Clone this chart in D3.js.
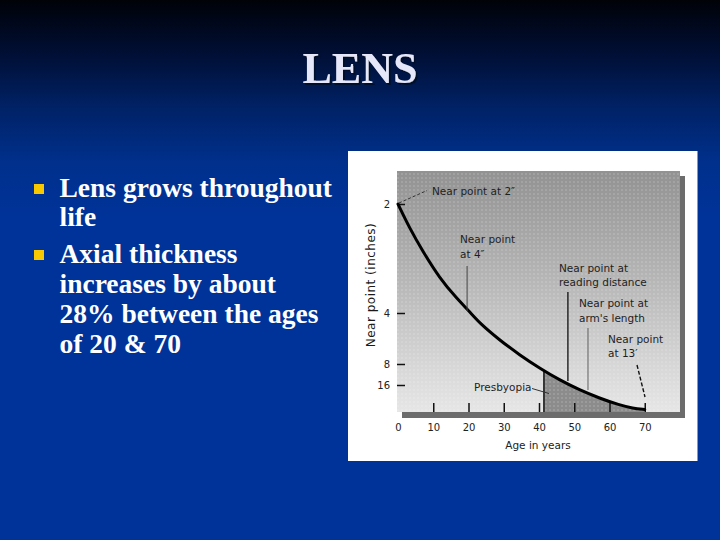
<!DOCTYPE html>
<html>
<head>
<meta charset="utf-8">
<title>LENS</title>
<script src="https://cdn.jsdelivr.net/npm/d3@7"></script>
<style>
  body { margin: 0; background: #003399; }
  svg { display: block; }
</style>
</head>
<body>
<div id="slide"></div>
<script>
// near point curve
const ages = [0, 3.3, 7.1, 11.8, 16.6, 20.3, 23.2, 28.8, 34.5, 40.2, 45.8, 51.5, 57.2, 62.8, 66.6, 70];
const nearPointInches = [2.0, 2.25, 2.56, 3.03, 3.52, 3.95, 4.45, 5.44, 6.8, 8.9, 12.9, 19.6, 31, 60, 109, 156];
const presbyopiaStart = 41.4;
const presbyopiaEnd = 70;

const xTicks = [0, 10, 20, 30, 40, 50, 60, 70];
const yTicks = [2, 4, 8, 16];

const title = 'LENS';
const bullets = [
    ['Lens grows throughout', 'life'],
    ['Axial thickness', 'increases by about', '28% between the ages', 'of 20 & 70']
];

const width = 720;
const height = 540;

const svg = d3.select('#slide')
    .append('svg')
    .attr('width', width)
    .attr('height', height);

const defs = svg.append('defs');

// slide background
const bg = defs.append('linearGradient')
    .attr('id', 'bg').attr('x1', 0).attr('y1', 0).attr('x2', 0).attr('y2', 1);
bg.append('stop').attr('offset', 0).attr('stop-color', '#000208');
bg.append('stop').attr('offset', 0.1).attr('stop-color', '#000f35');
bg.append('stop').attr('offset', 0.2).attr('stop-color', '#002266');
bg.append('stop').attr('offset', 0.3).attr('stop-color', '#00308c');
bg.append('stop').attr('offset', 0.4).attr('stop-color', '#003399');
bg.append('stop').attr('offset', 1).attr('stop-color', '#003399');

svg.append('rect').attr('width', width).attr('height', height).attr('fill', 'url(#bg)');

const shadow = defs.append('filter').attr('id', 'titleShadow');
shadow.append('feDropShadow')
    .attr('dx', 2).attr('dy', 2).attr('stdDeviation', 0.6)
    .attr('flood-color', '#000a2a').attr('flood-opacity', 0.9);

// title
svg.append('text')
    .attr('x', 360).attr('y', 83)
    .attr('text-anchor', 'middle')
    .attr('font-family', '"Liberation Serif", "Times New Roman", serif')
    .attr('font-weight', 'bold')
    .attr('font-size', 44)
    .attr('fill', '#e6e8fa')
    .attr('filter', 'url(#titleShadow)')
    .text(title);

// bullets
const bulletG = svg.append('g')
    .attr('font-family', '"Liberation Serif", "Times New Roman", serif')
    .attr('font-weight', 'bold')
    .attr('font-size', 27.5)
    .attr('fill', '#ffffff');

const bulletTops = [197, 263];
const lineStep = 30;
bullets.forEach((lines, i) => {
    bulletG.append('rect')
        .attr('x', 34).attr('y', bulletTops[i] - 13)
        .attr('width', 10).attr('height', 10)
        .attr('fill', '#f8c800');
    lines.forEach((t, j) => {
        bulletG.append('text')
            .attr('x', 59.5)
            .attr('y', bulletTops[i] + j * lineStep - (i === 0 && j > 0 ? 1 : 0))
            .text(t);
    });
});

// chart panel
const panel = { x: 348, y: 151, w: 349.5, h: 310 };
svg.append('rect')
    .attr('x', panel.x).attr('y', panel.y)
    .attr('width', panel.w).attr('height', panel.h)
    .attr('fill', '#ffffff');

const plotLeft = 397;
const plotRight = 680;
const plotTop = 171;
const plotBottom = 412;

const x = d3.scaleLinear().domain([0, 80]).range([398, plotRight]);
// the axis is spaced in reciprocal inches (dioptres), hand drawn, so piecewise
const y = d3.scaleLinear()
    .domain([0, 1 / 156, 1 / 16, 1 / 8, 1 / 4, 1 / 2])
    .range([plotBottom, 409.5, 385, 364, 313, 204]);
const yIn = v => y(1 / v);

const curveData = ages.map((a, i) => ({ age: a, inches: nearPointInches[i] }));

const plotGrad = defs.append('linearGradient')
    .attr('id', 'plotbg').attr('x1', 0).attr('y1', 0).attr('x2', 0).attr('y2', 1);
plotGrad.append('stop').attr('offset', 0).attr('stop-color', '#929292');
plotGrad.append('stop').attr('offset', 0.45).attr('stop-color', '#b6b6b6');
plotGrad.append('stop').attr('offset', 0.8).attr('stop-color', '#d6d6d6');
plotGrad.append('stop').attr('offset', 1).attr('stop-color', '#e6e6e6');

const dots = defs.append('pattern')
    .attr('id', 'dots')
    .attr('patternUnits', 'userSpaceOnUse')
    .attr('width', 4).attr('height', 4);
dots.append('circle').attr('cx', 2).attr('cy', 2).attr('r', 1.1).attr('fill', '#ffffff');

// shadow + plot background
svg.append('rect')
    .attr('x', plotLeft + 5).attr('y', plotTop + 5)
    .attr('width', plotRight - plotLeft).attr('height', plotBottom - plotTop + 1)
    .attr('fill', '#6c6c6c');
svg.append('rect')
    .attr('x', plotLeft).attr('y', plotTop)
    .attr('width', plotRight - plotLeft).attr('height', plotBottom - plotTop)
    .attr('fill', 'url(#plotbg)');

const line = d3.line()
    .x(d => x(d.age))
    .y(d => yIn(d.inches))
    .curve(d3.curveBasis);

const area = d3.area()
    .x(d => x(d.age))
    .y0(plotBottom)
    .y1(d => yIn(d.inches))
    .curve(d3.curveBasis);

defs.append('clipPath').attr('id', 'presbyClip')
    .append('rect')
    .attr('x', x(presbyopiaStart)).attr('y', plotTop)
    .attr('width', x(presbyopiaEnd) - x(presbyopiaStart)).attr('height', plotBottom - plotTop);

defs.append('clipPath').attr('id', 'underCurve')
    .append('path')
    .attr('d', area(curveData));

svg.append('path')
    .attr('d', area(curveData))
    .attr('fill', '#8c8c8c')
    .attr('clip-path', 'url(#presbyClip)');

// halftone texture
svg.append('rect')
    .attr('x', plotLeft).attr('y', plotTop)
    .attr('width', plotRight - plotLeft).attr('height', plotBottom - plotTop)
    .attr('fill', 'url(#dots)')
    .attr('opacity', 0.16);

svg.append('line')
    .attr('x1', x(presbyopiaStart)).attr('x2', x(presbyopiaStart))
    .attr('y1', plotTop).attr('y2', plotBottom)
    .attr('stroke', '#111').attr('stroke-width', 1.5)
    .attr('clip-path', 'url(#underCurve)');

// axes
const axisFont = '"DejaVu Sans", "Liberation Sans", sans-serif';

const xAxis = svg.append('g')
    .attr('transform', `translate(0,${plotBottom})`)
    .call(d3.axisBottom(x).tickValues(xTicks).tickSizeInner(-9).tickSizeOuter(0).tickPadding(12));
xAxis.select('.domain').remove();
xAxis.selectAll('.tick line')
    .attr('stroke', '#111').attr('stroke-width', 1.5)
    .filter(d => d === 0).remove();
xAxis.selectAll('.tick text')
    .attr('font-family', axisFont).attr('font-size', 10).attr('fill', '#222');

const yAxis = svg.append('g')
    .attr('transform', `translate(${plotLeft},0)`)
    .call(d3.axisLeft(y)
        .tickValues(yTicks.map(v => 1 / v))
        .tickFormat(d => Math.round(1 / d))
        .tickSizeInner(-8).tickSizeOuter(0).tickPadding(7));
yAxis.select('.domain').remove();
yAxis.selectAll('.tick line').attr('stroke', '#111').attr('stroke-width', 1.5);
yAxis.selectAll('.tick text')
    .attr('font-family', axisFont).attr('font-size', 10).attr('fill', '#222');

svg.append('text')
    .attr('x', 538).attr('y', 448.5)
    .attr('text-anchor', 'middle')
    .attr('font-family', axisFont).attr('font-size', 10.5).attr('fill', '#222')
    .text('Age in years');

svg.append('text')
    .attr('transform', 'translate(375,285) rotate(-90)')
    .attr('text-anchor', 'middle')
    .attr('font-family', axisFont).attr('font-size', 12).attr('letter-spacing', 0.5)
    .attr('fill', '#1a1a1a')
    .text('Near point (inches)');

// the curve
svg.append('path')
    .attr('d', line(curveData))
    .attr('fill', 'none')
    .attr('stroke', '#000')
    .attr('stroke-width', 3)
    .attr('stroke-linecap', 'round');

// annotations
const notes = svg.append('g')
    .attr('font-family', axisFont)
    .attr('font-size', 10.5)
    .attr('fill', '#1e1e1e');

function note(lines, tx, ty) {
    lines.forEach((t, i) => {
        notes.append('text').attr('x', tx).attr('y', ty + i * 14.5).text(t);
    });
}

note(['Near point at 2″'], 432, 194.5);
note(['Near point', 'at 4″'], 460, 243);
note(['Near point at', 'reading distance'], 559, 271.5);
note(['Near point at', 'arm\'s length'], 579, 307);
note(['Near point', 'at 13′'], 608, 342.5);
note(['Presbyopia'], 474, 390.5);

const leaders = svg.append('g').attr('fill', 'none');
leaders.append('line')
    .attr('x1', x(0) + 1).attr('y1', 203).attr('x2', 427).attr('y2', 190.5)
    .attr('stroke', '#333').attr('stroke-width', 1).attr('stroke-dasharray', '3,2');
leaders.append('line')
    .attr('x1', x(19.6)).attr('y1', 266).attr('x2', x(19.6)).attr('y2', 311)
    .attr('stroke', '#444').attr('stroke-width', 1);
leaders.append('line')
    .attr('x1', x(48.2)).attr('y1', 292).attr('x2', x(48.2)).attr('y2', 381)
    .attr('stroke', '#111').attr('stroke-width', 1.3);
leaders.append('line')
    .attr('x1', x(53.9)).attr('y1', 328).attr('x2', x(53.9)).attr('y2', 390)
    .attr('stroke', '#555').attr('stroke-width', 0.9);
leaders.append('line')
    .attr('x1', 637).attr('y1', 365).attr('x2', 645).attr('y2', 397)
    .attr('stroke', '#111').attr('stroke-width', 1.4).attr('stroke-dasharray', '4,2');
leaders.append('line')
    .attr('x1', 532).attr('y1', 388.5).attr('x2', 549).attr('y2', 393.5)
    .attr('stroke', '#333').attr('stroke-width', 1);
</script>
</body>
</html>
